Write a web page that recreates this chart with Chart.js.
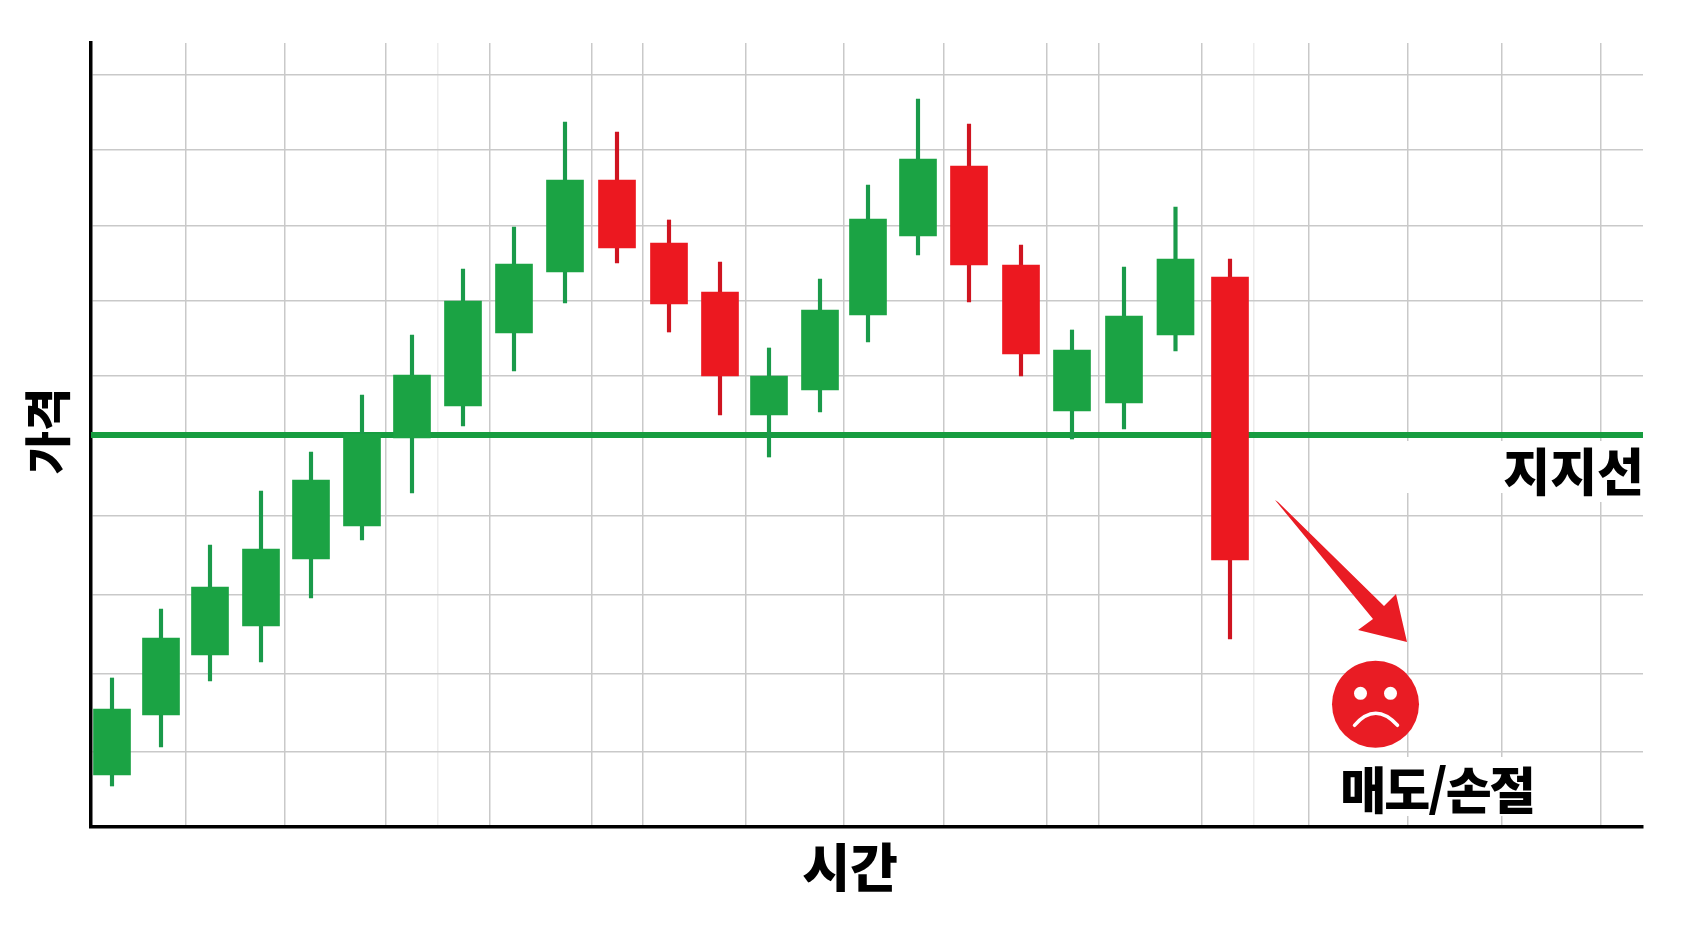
<!DOCTYPE html>
<html lang="ko">
<head>
<meta charset="utf-8">
<title>지지선 이탈 차트</title>
<script src="https://cdn.jsdelivr.net/npm/chart.js@4"></script>
<style>html,body{margin:0;padding:0;background:#fff;overflow:hidden}canvas{display:block}</style>
</head>
<body>
<canvas id="c" width="1697" height="926"></canvas>
<script>
// Candle data
const times  = [21,70,119,170,220,271,321,372,423,474,526,578,629,678,729,777,827,878,930,981,1033,1084.5,1139];
const opens  = [52,112,172,201,268,301,389,421,494,555,647,584,535,412,437,512,591,661,562,416,424,492,550];
const closes = [118,189,240,278,347,393,452,526,563,647,579,523,451,451,517,608,668,562,473,477,511,568,267];
const highs  = [149,218,282,336,375,432,492,558,600,705,695,607,565,479,548,642,728,703,582,497,560,620,568];
const lows   = [41,80,146,165,229,287,334,401,456,524,564,495,412,370,415,485,572,525,451,388,398,476,188];
const supportLevel = 392;
const supportSpan  = [0,1552];
const priceTicks = [75,153,232,311,392,451,526,601,677,752];
const timeTicks  = [95,194,295,347,399,501,552,655,753,853,956,1008,1111,1163,1218,1317,1411,1510];
const faintTimeTicks = [347,1163];
const axisTitleX = '시간';
const axisTitleY = '가격';
const supportLabel = '지지선';
const sellLabel = '매도/손절';

const GREEN='#1ba344', GREEN_WICK='#1a9a4a', RED='#ec1820', RED_WICK='#cf1420';
const isUp = i => closes[i] >= opens[i];

const shiftTitle = (s,dx,dy) => {
  if(s._shifted) return;
  const d=s.drawTitle;
  s.drawTitle=function(){this.ctx.save();this.ctx.translate(dx,dy);d.apply(this,arguments);this.ctx.restore();};
  s._shifted=true;
};

const overlay = {
  id:'overlay',
  beforeDatasetsDraw(chart){
    const {ctx}=chart;
    ctx.save();
    ctx.fillStyle='#fff';
    ctx.fillRect(1392,441,252,52);
    ctx.fillRect(1580,441,40,61);
    ctx.fillRect(1340,757,210,59);
    ctx.restore();
  },
  afterDatasetsDraw(chart){
    const {ctx,scales:{x,y}}=chart;
    const P=(a,b)=>[x.getPixelForValue(a),y.getPixelForValue(b)];
    ctx.save();
    // arrow
    const arrowPts=[[1184,327],[1187,325],[1293,221],[1305,233],[1316,185],[1267,197],[1282,208]];
    ctx.fillStyle='#e91c24';
    ctx.beginPath();
    arrowPts.forEach((p,i)=>{const [a,b]=P(p[0],p[1]); i?ctx.lineTo(a,b):ctx.moveTo(a,b);});
    ctx.closePath();ctx.fill();
    // face
    const [fx,fy]=P(1284.5,122.7);
    ctx.fillStyle='#e91c24';
    ctx.beginPath();ctx.arc(fx,fy,43.5,0,Math.PI*2);ctx.fill();
    ctx.fillStyle='#fff';
    ctx.beginPath();ctx.arc(fx-15,fy-11,6.5,0,Math.PI*2);ctx.fill();
    ctx.beginPath();ctx.arc(fx+15,fy-11,6.5,0,Math.PI*2);ctx.fill();
    ctx.strokeStyle='#fff';ctx.lineWidth=3.5;ctx.lineCap='round';
    ctx.beginPath();ctx.moveTo(fx-21,fy+21);ctx.quadraticCurveTo(fx,fy-3,fx+22,fy+21);ctx.stroke();
    // labels
    ctx.fillStyle='#000';
    ctx.font='900 51px "Noto Sans CJK KR"';
    ctx.textBaseline='middle';
    ctx.textAlign='right';
    const [lx,ly]=P(1553,355);
    ctx.fillText(supportLabel,lx,ly);
    ctx.textAlign='center';
    ctx.font='900 50px "Noto Sans CJK KR"';
    ctx.letterSpacing='-2px';
    const [sx,sy]=P(1346,37);
    ctx.fillText(sellLabel,sx,sy);
    ctx.restore();
  }
};

const gridColor='#c9c9c9';

new Chart(document.getElementById('c'),{
  data:{datasets:[
    {type:'bar',label:'몸통',order:1,grouped:false,barThickness:37,
     data:times.map((t,i)=>({x:t,y:[opens[i],closes[i]]})),
     backgroundColor:times.map((t,i)=>isUp(i)?GREEN:RED),borderWidth:0},
    {type:'bar',label:'꼬리',order:2,grouped:false,barThickness:3.5,
     data:times.map((t,i)=>({x:t,y:[lows[i],highs[i]]})),
     backgroundColor:times.map((t,i)=>isUp(i)?GREEN_WICK:RED_WICK),borderWidth:0},
    {type:'line',label:supportLabel,order:3,
     data:supportSpan.map(t=>({x:t,y:supportLevel})),
     borderColor:'#179c40',borderWidth:6,pointRadius:0,tension:0}
  ]},
  options:{
    responsive:false,animation:false,devicePixelRatio:1,
    layout:{padding:{left:0,top:43,right:54,bottom:0}},
    plugins:{legend:{display:false},tooltip:{enabled:false},title:{display:false}},
    scales:{
      x:{type:'linear',min:0,max:1552,offset:false,
        afterBuildTicks:s=>{s.ticks=timeTicks.map(v=>({value:v}));},
        afterFit:s=>{s.height=99;},
        afterUpdate:s=>shiftTitle(s,-17,0),
        ticks:{display:false},
        border:{color:'#000',width:3.5},
        grid:{offset:false,drawTicks:false,lineWidth:1.5,color:c=>faintTimeTicks.includes(c.tick&&c.tick.value)?'#ececec':gridColor},
        title:{display:true,text:axisTitleX,color:'#000',font:{family:'"Noto Sans CJK KR"',size:52,weight:'900'},padding:{top:0,bottom:28}}
      },
      y:{type:'linear',min:0,max:784,
        afterBuildTicks:s=>{s.ticks=priceTicks.map(v=>({value:v}));},
        afterFit:s=>{s.width=91;},
        afterUpdate:s=>shiftTitle(s,0,-4),
        ticks:{display:false},
        border:{color:'#000',width:3.5},
        grid:{drawTicks:false,lineWidth:1.5,color:gridColor},
        title:{display:true,text:axisTitleY,color:'#000',font:{family:'"Noto Sans CJK KR"',size:47,weight:'900'},padding:{top:19,bottom:0}}
      }
    }
  },
  plugins:[overlay]
});
</script>
</body>
</html>
